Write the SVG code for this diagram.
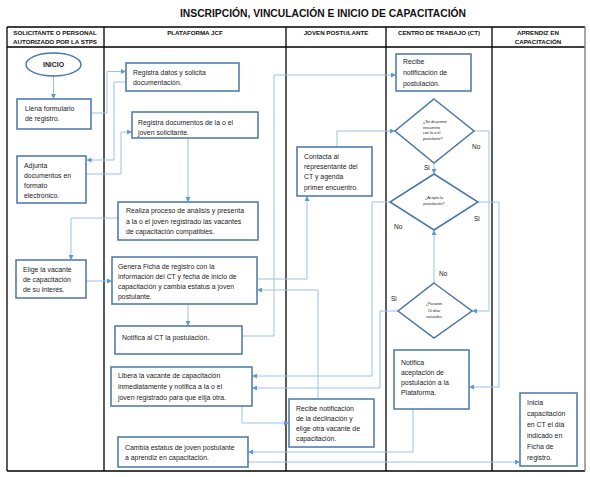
<svg xmlns="http://www.w3.org/2000/svg" width="590" height="477" viewBox="0 0 590 477">
<defs>
<marker id="ah" viewBox="0 0 6 6" refX="5.5" refY="3" markerWidth="5" markerHeight="5" orient="auto" markerUnits="userSpaceOnUse">
<path d="M0,0 L6,3 L0,6 z" fill="#5B9BD5"/>
</marker>
<style>
.title{font-family:"Liberation Sans",Arial,sans-serif;font-weight:bold;font-size:11px;fill:#111}
.hdr{font-family:"Liberation Sans",Arial,sans-serif;font-weight:bold;font-size:6.2px;fill:#111}
.grid{stroke:#000;stroke-width:1.3;fill:none}
.box{fill:#fff;stroke:#4A76A8;stroke-width:1.5}
.t{font-family:"Liberation Sans",Arial,sans-serif;font-size:6.9px;fill:#222}
.s{font-family:"Liberation Sans",Arial,sans-serif;font-size:3.8px;fill:#222}
.lab{font-family:"Liberation Sans",Arial,sans-serif;font-size:6.5px;fill:#222}
.c{fill:none;stroke:#9DC3E6;stroke-width:1}
.ca{fill:none;stroke:#9DC3E6;stroke-width:1;marker-end:url(#ah)}
</style>
</defs>
<rect width="590" height="477" fill="#fff"/>
<text class="title" x="323" y="17" text-anchor="middle" textLength="286" lengthAdjust="spacingAndGlyphs">INSCRIPCIÓN, VINCULACIÓN E INICIO DE CAPACITACIÓN</text>

<g id="lanes">
<line class="grid" x1="7" y1="27" x2="585" y2="27" stroke-width="2"/>
<line class="grid" x1="7" y1="47" x2="585" y2="47"/>
<line class="grid" x1="7" y1="471" x2="585" y2="471" stroke-width="2"/>
<line class="grid" x1="7" y1="27" x2="7" y2="471"/>
<line class="grid" x1="104" y1="27" x2="104" y2="471"/>
<line class="grid" x1="286" y1="27" x2="286" y2="471"/>
<line class="grid" x1="386" y1="27" x2="386" y2="471"/>
<line class="grid" x1="492" y1="27" x2="492" y2="471"/>
<line x1="585" y1="27" x2="585" y2="471" stroke="#888" stroke-width="1.5"/>
<text class="hdr" x="55" y="35" text-anchor="middle">SOLICITANTE O PERSONAL</text>
<text class="hdr" x="55" y="44" text-anchor="middle">AUTORIZADO POR LA STPS</text>
<text class="hdr" x="195" y="35" text-anchor="middle">PLATAFORMA JCF</text>
<text class="hdr" x="336" y="35" text-anchor="middle">JOVEN POSTULANTE</text>
<text class="hdr" x="439" y="35" text-anchor="middle">CENTRO DE TRABAJO (CT)</text>
<text class="hdr" x="538" y="35" text-anchor="middle">APRENDIZ EN</text>
<text class="hdr" x="538" y="44" text-anchor="middle">CAPACITACIÓN</text>
</g>

<g id="connectors">
<path class="ca" d="M53.5,76 V98.5"/>
<path class="ca" d="M91,113 H107 V71.5 H125.5"/>
<path class="ca" d="M126,82 H114 V160 H87"/>
<path class="ca" d="M86,174 H121 V132 H131.5"/>
<path class="ca" d="M188,138 V201.5"/>
<path class="ca" d="M118,218 H71 V259.5"/>
<path class="ca" d="M86,281 H111.5"/>
<path class="ca" d="M188,304 V325.5"/>
<path class="ca" d="M242,336 H274 V75 H395.5"/>
<path class="ca" d="M257,279 H307 V196.5"/>
<path class="ca" d="M337,147 V131 H394.5"/>
<path class="ca" d="M434,163 V173.5"/>
<path class="ca" d="M474,131 H489 V311 H472.5"/>
<path class="ca" d="M478,202 H499 V387 H469.5"/>
<path class="ca" d="M390,202 H372 V376 H252.5"/>
<path class="ca" d="M434,283 V230.5"/>
<path class="ca" d="M398,311 H380 V388 H252.5"/>
<path class="ca" d="M318,399 V290 H257.5"/>
<path class="ca" d="M242,406 V423 H288.5"/>
<path class="ca" d="M413,409 V452 H248.5"/>
<path class="ca" d="M248,462 H519.5"/>
<text class="lab" x="472" y="149">No</text>
<text class="lab" x="424" y="170">Si</text>
<text class="lab" x="394" y="229">No</text>
<text class="lab" x="474" y="221">Si</text>
<text class="lab" x="439" y="276">No</text>
<text class="lab" x="391" y="301">Si</text>
</g>

<g id="inicio">
<ellipse class="box" cx="53.5" cy="64.5" rx="27.5" ry="11.5"/>
<text class="t" x="53.5" y="67" text-anchor="middle" font-weight="bold">INICIO</text>
</g>
<g id="llena">
<rect class="box" x="17" y="99" width="74" height="30"/>
<text class="t" x="25" y="111">Llena formulario</text>
<text class="t" x="25" y="121">de registro.</text>
</g>
<g id="registra-datos">
<rect class="box" x="126" y="63" width="113" height="28"/>
<text class="t" x="133" y="75">Registra datos y solicita</text>
<text class="t" x="133" y="85">documentación.</text>
</g>
<g id="registra-docs">
<rect class="box" x="132" y="112" width="126" height="26"/>
<text class="t" x="138" y="124.5">Registra documentos de la o el</text>
<text class="t" x="138" y="134.5">joven solicitante.</text>
</g>
<g id="adjunta">
<rect class="box" x="17" y="156" width="69" height="47"/>
<text class="t" x="24" y="167.5">Adjunta</text>
<text class="t" x="24" y="177.5">documentos en</text>
<text class="t" x="24" y="187.5">formato</text>
<text class="t" x="24" y="197.5">electrónico.</text>
</g>
<g id="realiza">
<rect class="box" x="118" y="202" width="140" height="38"/>
<text class="t" x="126" y="212.5">Realiza proceso de análisis y presenta</text>
<text class="t" x="126" y="223.5">a la o el joven registrado las vacantes</text>
<text class="t" x="126" y="233.5">de capacitación compatibles.</text>
</g>
<g id="elige">
<rect class="box" x="16" y="260" width="70" height="38"/>
<text class="t" x="23" y="271.5">Elige la vacante</text>
<text class="t" x="23" y="281.5">de capacitación</text>
<text class="t" x="23" y="291.5">de su interés.</text>
</g>
<g id="genera">
<rect class="box" x="112" y="257" width="145" height="47"/>
<text class="t" x="118" y="268.5">Genera Ficha de registro con la</text>
<text class="t" x="118" y="278.5">información del CT y fecha de inicio de</text>
<text class="t" x="118" y="288.5">capacitación y cambia estatus a joven</text>
<text class="t" x="118" y="298.5">postulante.</text>
</g>
<g id="notifica-ct">
<rect class="box" x="115" y="326" width="127" height="28"/>
<text class="t" x="122" y="339.5">Notifica al CT la postulación.</text>
</g>
<g id="libera">
<rect class="box" x="111" y="367" width="141" height="39"/>
<text class="t" x="118" y="377.5">Libera la vacante de capacitación</text>
<text class="t" x="118" y="388.5">inmediatamente y notifica a la o el</text>
<text class="t" x="118" y="399.5">joven registrado para que elija otra.</text>
</g>
<g id="cambia">
<rect class="box" x="118" y="437" width="130" height="30"/>
<text class="t" x="125" y="449.5">Cambia estatus de joven postulante</text>
<text class="t" x="125" y="459.5">a aprendiz en capacitación.</text>
</g>
<g id="contacta">
<rect class="box" x="297" y="147" width="75" height="49"/>
<text class="t" x="304" y="158.5">Contacta al</text>
<text class="t" x="304" y="168.5">representante del</text>
<text class="t" x="304" y="179">CT y agenda</text>
<text class="t" x="304" y="189.5">primer encuentro.</text>
</g>
<g id="recibe-declinacion">
<rect class="box" x="289" y="399" width="85" height="48"/>
<text class="t" x="296" y="410.5">Recibe notificación</text>
<text class="t" x="296" y="420.5">de la declinación y</text>
<text class="t" x="296" y="430.5">elige otra vacante de</text>
<text class="t" x="296" y="440.5">capacitación.</text>
</g>
<g id="recibe-postulacion">
<rect class="box" x="396" y="54" width="75" height="37"/>
<text class="t" x="403" y="63.5">Recibe</text>
<text class="t" x="403" y="75">notificación de</text>
<text class="t" x="403" y="85.5">postulación.</text>
</g>
<g id="d-encuentro">
<polygon class="box" points="434,99 474,131 434,163 395,131"/>
<text class="s" x="423" y="123">¿Se da primer</text>
<text class="s" x="423" y="128.5">encuentro</text>
<text class="s" x="423" y="134">con la o el</text>
<text class="s" x="423" y="139.5">postulante?</text>
</g>
<g id="d-acepta">
<polygon class="box" points="434,174 478,202 434,230 390,202"/>
<text class="s" x="434" y="198.5" text-anchor="middle" font-size="4.5">¿Acepta la</text>
<text class="s" x="434" y="205" text-anchor="middle" font-size="4.5">postulación?</text>
</g>
<g id="d-pasaron">
<polygon class="box" points="434,283 472,311 434,338 398,311"/>
<text class="s" x="434" y="305" text-anchor="middle" font-size="4.5">¿Pasaron</text>
<text class="s" x="434" y="311.5" text-anchor="middle" font-size="4.5">10 días</text>
<text class="s" x="434" y="318" text-anchor="middle" font-size="4.5">naturales</text>
</g>
<g id="notifica-aceptacion">
<rect class="box" x="394" y="350" width="75" height="59"/>
<text class="t" x="401" y="364.5">Notifica</text>
<text class="t" x="401" y="374.5">aceptación de</text>
<text class="t" x="401" y="384.5">postulación a la</text>
<text class="t" x="401" y="394.5">Plataforma.</text>
</g>
<g id="inicia">
<rect class="box" x="520" y="393" width="57" height="73"/>
<text class="t" x="527" y="404.5">Inicia</text>
<text class="t" x="527" y="415.5">capacitación</text>
<text class="t" x="527" y="426.5">en CT el día</text>
<text class="t" x="527" y="437.5">indicado en</text>
<text class="t" x="527" y="448.5">Ficha de</text>
<text class="t" x="527" y="459.5">registro.</text>
</g>
</svg>
